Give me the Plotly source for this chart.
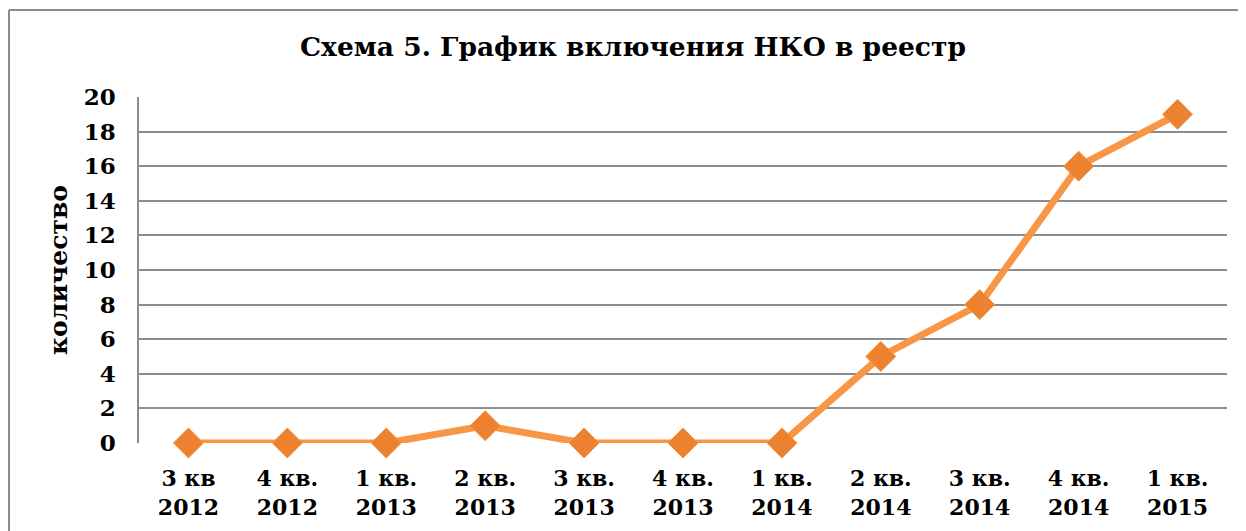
import plotly.graph_objects as go

categories = ["3 кв<br>2012", "4 кв.<br>2012", "1 кв.<br>2013", "2 кв.<br>2013",
              "3 кв.<br>2013", "4 кв.<br>2013", "1 кв.<br>2014", "2 кв.<br>2014",
              "3 кв.<br>2014", "4 кв.<br>2014", "1 кв.<br>2015"]
values = [0, 0, 0, 1, 0, 0, 0, 5, 8, 16, 19]
y_ticks = [0, 2, 4, 6, 8, 10, 12, 14, 16, 18, 20]

FONT = "Georgia, 'DejaVu Serif', 'Liberation Serif', serif"

# page body has an 8px margin, so figure is sized/offset to compensate
W, H = 1238, 523
L, T, R, B = 131, 89, 19, 88

fig = go.Figure()
fig.add_trace(go.Scatter(
    x=categories, y=values, mode="lines+markers",
    line=dict(color="#F79646", width=7),
    marker=dict(symbol="diamond", size=23, color="#EC8230",
                line=dict(color="#F0913E", width=1)),
    cliponaxis=False, showlegend=False,
))

fig.update_layout(
    width=W, height=H,
    margin=dict(l=L, r=R, t=T, b=B),
    paper_bgcolor="white", plot_bgcolor="white",
    title=dict(text="<b>Схема 5. График включения НКО в реестр</b>",
               x=(633 - 8 - L) / (W - L - R), xanchor="center",
               y=1 - (47 - 8) / H, yanchor="middle",
               xref="paper", yref="container",
               font=dict(family=FONT, size=26.5, color="black")),
    xaxis=dict(type="category", range=[-0.5, 10.5], showgrid=False,
               showline=False, zeroline=False,
               tickvals=categories,
               ticktext=[f"<b>{c}</b>" for c in categories],
               tickfont=dict(family=FONT, size=22, color="black"),
               ticks="", ticklabelstandoff=20),
    yaxis=dict(range=[0, 20], tickvals=y_ticks,
               ticktext=[f"<b>{v}</b>" for v in y_ticks],
               showgrid=True, gridcolor="#8C8C8C", gridwidth=1.5,
               showline=True, linecolor="#8C8C8C", linewidth=1.5,
               zeroline=False, ticks="", ticklabelstandoff=17,
               tickfont=dict(family=FONT, size=23, color="black"),
               title=dict(text="<b>количество</b>", standoff=9,
                          font=dict(family=FONT, size=25, color="black"))),
    font=dict(family=FONT),
)

# outer chart-area border (top and left edges visible)
pw, ph = W - L - R, H - T - B
bx = (9 - 8 - L) / pw
by = (H - B - (10 - 8)) / ph
fig.add_shape(type="line", xref="paper", yref="paper",
              x0=bx, x1=1.05, y0=by, y1=by,
              line=dict(color="#8C8C8C", width=2))
fig.add_shape(type="line", xref="paper", yref="paper",
              x0=bx, x1=bx, y0=by, y1=-0.3,
              line=dict(color="#8C8C8C", width=2))

fig.write_html("out.html")
